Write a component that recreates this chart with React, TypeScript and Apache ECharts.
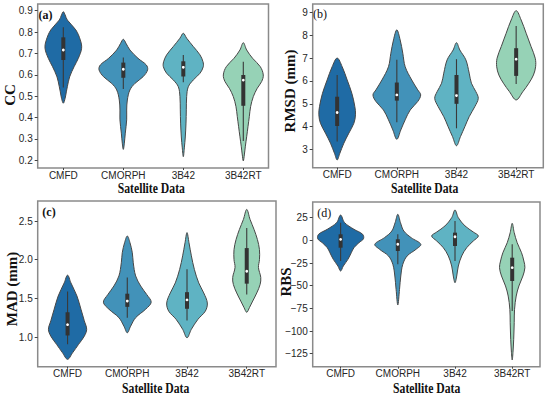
import React, { useEffect, useRef } from "react";
import * as echarts from "echarts";

const categories = ["CMFD", "CMORPH", "3B42", "3B42RT"];
const colors = ["#1f6ba5", "#4292b9", "#5fb3c3", "#96d2b6"];

// violin profiles: [value, half-width in category units]
const ccViolins = [
  [[0.467, 0], [0.49, 0.03], [0.52, 0.05], [0.544, 0.067], [0.59, 0.105], [0.638, 0.18], [0.677, 0.25], [0.724, 0.305], [0.763, 0.283], [0.81, 0.208], [0.856, 0.067], [0.88, 0.03], [0.895, 0]],
  [[0.251, 0], [0.28, 0.017], [0.327, 0.033], [0.389, 0.056], [0.435, 0.056], [0.482, 0.067], [0.529, 0.11], [0.56, 0.195], [0.591, 0.33], [0.623, 0.405], [0.646, 0.383], [0.677, 0.245], [0.716, 0.11], [0.747, 0.045], [0.766, 0]],
  [[0.217, 0], [0.258, 0.017], [0.309, 0.033], [0.374, 0.045], [0.436, 0.05], [0.498, 0.056], [0.544, 0.083], [0.576, 0.167], [0.607, 0.278], [0.638, 0.333], [0.661, 0.328], [0.693, 0.278], [0.732, 0.167], [0.771, 0.056], [0.794, 0]],
  [[0.197, 0], [0.225, 0.017], [0.263, 0.033], [0.31, 0.056], [0.357, 0.078], [0.404, 0.1], [0.451, 0.122], [0.498, 0.167], [0.537, 0.233], [0.568, 0.305], [0.599, 0.333], [0.638, 0.283], [0.677, 0.155], [0.716, 0.056], [0.75, 0]],
];
// box stats: [whisker low, q1, median, q3, whisker high]
const ccBoxes = [
  [0.541, 0.669, 0.716, 0.775, 0.822],
  [0.533, 0.586, 0.626, 0.657, 0.681],
  [0.565, 0.592, 0.635, 0.663, 0.692],
  [0.29, 0.455, 0.575, 0.599, 0.661],
];

const rmsdViolins = [
  [[2.55, 0], [2.84, 0.045], [3.28, 0.112], [3.72, 0.196], [4.15, 0.28], [4.52, 0.307], [4.88, 0.296], [5.46, 0.246], [6.04, 0.168], [6.62, 0.084], [7.0, 0]],
  [[3.45, 0], [3.86, 0.067], [4.3, 0.14], [4.73, 0.224], [5.1, 0.35], [5.39, 0.4], [5.61, 0.35], [6.04, 0.25], [6.62, 0.14], [7.21, 0.1], [7.79, 0.056], [8.23, 0]],
  [[3.17, 0], [3.57, 0.067], [4.0, 0.14], [4.44, 0.213], [4.88, 0.308], [5.24, 0.365], [5.53, 0.325], [5.9, 0.25], [6.34, 0.213], [6.92, 0.157], [7.35, 0.056], [7.67, 0]],
  [[5.17, 0], [5.53, 0.112], [5.9, 0.213], [6.26, 0.29], [6.62, 0.326], [6.99, 0.32], [7.5, 0.25], [8.08, 0.168], [8.66, 0.084], [9.07, 0]],
];
const rmsdBoxes = [
  [3.35, 4.03, 4.62, 5.31, 6.26],
  [4.2, 5.14, 5.39, 5.93, 6.92],
  [3.93, 5.0, 5.36, 6.26, 6.95],
  [5.87, 6.22, 6.95, 7.43, 8.4],
];

const madViolins = [
  [[0.711, 0], [0.796, 0.084], [0.905, 0.184], [1.01, 0.28], [1.1, 0.32], [1.21, 0.28], [1.36, 0.224], [1.53, 0.157], [1.7, 0.056], [1.8, 0]],
  [[1.055, 0], [1.14, 0.056], [1.25, 0.14], [1.36, 0.308], [1.45, 0.4], [1.55, 0.325], [1.66, 0.224], [1.79, 0.14], [1.96, 0.1], [2.09, 0.084], [2.22, 0.045], [2.306, 0]],
  [[0.99, 0], [1.1, 0.073], [1.23, 0.184], [1.335, 0.307], [1.44, 0.34], [1.57, 0.28], [1.7, 0.196], [1.875, 0.123], [2.05, 0.073], [2.22, 0.033], [2.35, 0]],
  [[1.32, 0], [1.38, 0.045], [1.465, 0.1], [1.57, 0.168], [1.68, 0.224], [1.77, 0.235], [1.9, 0.196], [2.0, 0.213], [2.13, 0.213], [2.26, 0.179], [2.39, 0.123], [2.52, 0.056], [2.65, 0]],
];
const madBoxes = [
  [0.905, 1.02, 1.16, 1.32, 1.59],
  [1.25, 1.39, 1.465, 1.56, 1.77],
  [1.215, 1.365, 1.48, 1.58, 1.875],
  [1.55, 1.69, 1.85, 2.15, 2.41],
];

const rbsViolins = [
  [[-33.8, 0], [-28.3, 0.047], [-20.9, 0.128], [-13.6, 0.187], [-8.1, 0.233], [-2.6, 0.32], [1.8, 0.4], [6.7, 0.385], [12.2, 0.233], [19.5, 0.07], [27.9, 0]],
  [[-71.3, 0], [-54, 0.03], [-39.3, 0.052], [-26.4, 0.087], [-17.2, 0.163], [-9.8, 0.32], [-4.3, 0.402], [3.0, 0.233], [10.3, 0.105], [19.5, 0.047], [28.7, 0]],
  [[-46.7, 0], [-39.3, 0.03], [-28.3, 0.058], [-17.2, 0.117], [-8.1, 0.204], [-0.7, 0.32], [4.8, 0.408], [9.2, 0.32], [15.9, 0.175], [25, 0.058], [33.5, 0]],
  [[-131.9, 0], [-123.9, 0.013], [-109.1, 0.026], [-90.8, 0.035], [-76, 0.041], [-61.4, 0.07], [-50.3, 0.117], [-39.3, 0.187], [-30.1, 0.222], [-22.8, 0.204], [-13.6, 0.163], [-2.6, 0.087], [8.5, 0.035], [18.8, 0]],
];
const rbsBoxes = [
  [-22.8, -8.1, 1.1, 6.7, 19.5],
  [-26.4, -11.7, -4.3, 1.2, 6.7],
  [-22.8, -6.2, 4, 8.5, 21.4],
  [-77.9, -44.8, -30.1, -19.1, -4.3],
];

const ccTicks = [0.2, 0.3, 0.4, 0.5, 0.6, 0.7, 0.8, 0.9];
const rmsdTicks = [3, 4, 5, 6, 7, 8, 9];
const madTicks = [1.0, 1.5, 2.0, 2.5];
const rbsTicks = [-125, -100, -75, -50, -25, 0, 25];

const catTicks = [0, 1, 2, 3];

const serif = "'Liberation Serif', 'Times New Roman', serif";
const sans = "'Liberation Sans', Arial, sans-serif";

function makeRender(profiles: number[][][], boxes: number[][]) {
  return (params: any, api: any) => {
    const i = params.dataIndex;
    const prof = profiles[i];
    const right = prof.map(([v, w]) => api.coord([i + w, v]));
    const left = prof
      .slice()
      .reverse()
      .map(([v, w]) => api.coord([i - w, v]));
    const pts = right.concat(left.slice(1, -1));
    const [lo, q1, med, q3, hi] = boxes[i];
    const pLo = api.coord([i, lo]);
    const pQ1 = api.coord([i, q1]);
    const pMed = api.coord([i, med]);
    const pQ3 = api.coord([i, q3]);
    const pHi = api.coord([i, hi]);
    return {
      type: "group",
      children: [
        {
          type: "polygon",
          shape: { points: pts, smooth: 0.35 },
          style: { fill: colors[i], stroke: "#474747", lineWidth: 1 },
        },
        {
          type: "line",
          shape: { x1: pLo[0], y1: pLo[1], x2: pHi[0], y2: pHi[1] },
          style: { stroke: "#3a3a3a", lineWidth: 1.1 },
        },
        {
          type: "line",
          shape: { x1: pQ1[0], y1: pQ1[1], x2: pQ3[0], y2: pQ3[1] },
          style: { stroke: "#333333", lineWidth: 4 },
        },
        {
          type: "circle",
          shape: { cx: pMed[0], cy: pMed[1], r: 1.4 },
          style: { fill: "#ffffff" },
        },
      ],
    };
  };
}

const panels = [
  { grid: { left: 37.7, top: 4, width: 230.8, height: 164 }, xlim: [-0.427, 3.42], ylim: [0.164, 0.931], ticks: ccTicks, fmt: (v: number) => v.toFixed(1), violins: ccViolins, boxes: ccBoxes },
  { grid: { left: 312.7, top: 4, width: 230.6, height: 163.7 }, xlim: [-0.41, 3.455], ylim: [2.21, 9.36], ticks: rmsdTicks, fmt: (v: number) => String(v), violins: rmsdViolins, boxes: rmsdBoxes },
  { grid: { left: 37.7, top: 201, width: 238.3, height: 165.7 }, xlim: [-0.5, 3.49], ylim: [0.616, 2.759], ticks: madTicks, fmt: (v: number) => v.toFixed(1), violins: madViolins, boxes: madBoxes },
  { grid: { left: 312.7, top: 202, width: 227.3, height: 164.7 }, xlim: [-0.488, 3.486], ylim: [-139.3, 42.3], ticks: rbsTicks, fmt: (v: number) => (v < 0 ? "\u2212" + Math.abs(v) : String(v)), violins: rbsViolins, boxes: rbsBoxes },
];

const yTitles = [
  { text: "CC", x: 9.5, y: 95 },
  { text: "RMSD (mm)", x: 290, y: 91 },
  { text: "MAD (mm)", x: 11.5, y: 289 },
  { text: "RBS", x: 285.5, y: 282 },
];
const xTitles = [
  { x: 151.3, y: 188.3 },
  { x: 424.7, y: 188.3 },
  { x: 155.7, y: 388 },
  { x: 426.7, y: 387.7 },
];
const panelLabels = [
  { text: "(a)", x: 45.5, y: 14.7, bold: true },
  { text: "(b)", x: 320, y: 13.5, bold: false },
  { text: "(c)", x: 49, y: 212.2, bold: true },
  { text: "(d)", x: 324.3, y: 213, bold: false },
];

export default function App() {
  const ref = useRef<HTMLDivElement>(null);
  useEffect(() => {
    if (!ref.current) return;
    const chart = echarts.init(ref.current, null, { renderer: "svg" });
    const option: any = {
      animation: false,
      backgroundColor: "#ffffff",
      grid: panels.map((p) => ({
        ...p.grid,
        show: true,
        borderColor: "#8a8a8a",
        borderWidth: 1.5,
        backgroundColor: "transparent",
        containLabel: false,
      })),
      xAxis: panels.map((p, k) => ({
        type: "value",
        gridIndex: k,
        position: "bottom",
        min: p.xlim[0],
        max: p.xlim[1],
        axisLine: { show: false, onZero: false },
        splitLine: { show: false },
        axisTick: { show: true, length: 2, customValues: catTicks, lineStyle: { color: "#444" } },
        axisLabel: {
          customValues: catTicks,
          formatter: (v: number) => categories[Math.round(v)],
          fontSize: 10,
          fontFamily: sans,
          color: "#262626",
          margin: 2,
        },
      })),
      yAxis: panels.map((p, k) => ({
        type: "value",
        gridIndex: k,
        position: "left",
        min: p.ylim[0],
        max: p.ylim[1],
        axisLine: { show: false, onZero: false },
        splitLine: { show: false },
        axisTick: { show: true, length: 3, customValues: p.ticks, lineStyle: { color: "#444" } },
        axisLabel: {
          customValues: p.ticks,
          formatter: p.fmt,
          fontSize: 10,
          fontFamily: sans,
          color: "#262626",
          margin: 5,
        },
      })),
      series: panels.map((p, k) => ({
        type: "custom",
        xAxisIndex: k,
        yAxisIndex: k,
        renderItem: makeRender(p.violins, p.boxes),
        encode: { x: 0, y: 1 },
        data: categories.map((_, i) => [i, p.boxes[i][2]]),
      })),
      graphic: [
        ...yTitles.map((t) => ({
          type: "text",
          x: t.x,
          y: t.y,
          rotation: Math.PI / 2,
          style: {
            text: t.text,
            fontSize: 15,
            fontWeight: "bold",
            fontFamily: serif,
            fill: "#111",
            align: "center",
            verticalAlign: "middle",
          },
        })),
        ...xTitles.map((t) => ({
          type: "text",
          x: t.x,
          y: t.y,
          scaleX: 0.78,
          style: {
            text: "Satellite Data",
            fontSize: 15,
            fontWeight: "bold",
            fontFamily: serif,
            fill: "#111",
            align: "center",
            verticalAlign: "middle",
          },
        })),
        ...panelLabels.map((t) => ({
          type: "text",
          x: t.x,
          y: t.y,
          style: {
            text: t.text,
            fontSize: 12,
            fontWeight: t.bold ? "bold" : "normal",
            fontFamily: serif,
            fill: "#111",
            align: "center",
            verticalAlign: "middle",
          },
        })),
      ],
    };
    chart.setOption(option);
    return () => chart.dispose();
  }, []);
  return (
    <div
      ref={ref}
      style={{ position: "fixed", left: 0, top: 0, width: 550, height: 396 }}
    />
  );
}
